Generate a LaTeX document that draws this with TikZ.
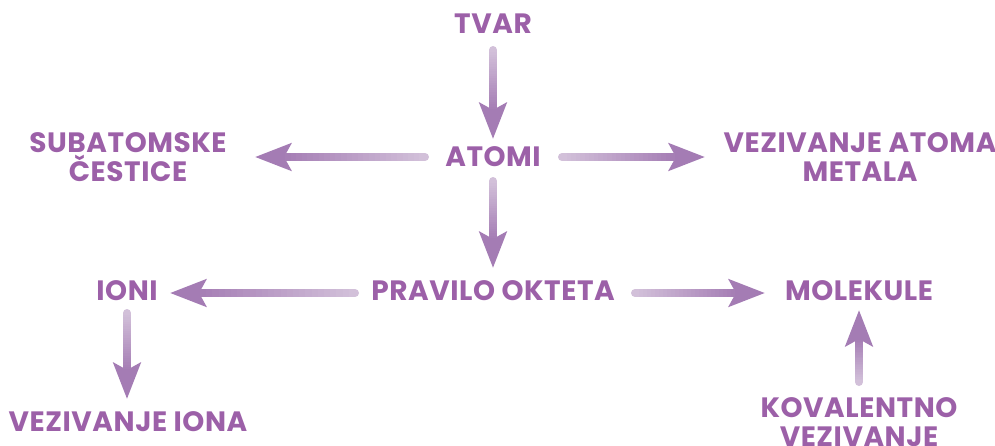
\documentclass[tikz,border=0pt]{standalone}
\usepackage{fontspec}
\setmainfont{Poppins}[LetterSpace=2]
\usetikzlibrary{arrows.meta,calc}
\definecolor{txt}{RGB}{156,96,168}
\definecolor{alight}{RGB}{210,192,217}
\definecolor{adark}{RGB}{164,124,180}
\tikzset{
  lbl/.style={text=txt, font=\fontsize{28}{29}\selectfont\bfseries, align=center, inner sep=0pt},
  headarr/.style={draw=adark, fill=adark, line width=8pt, -{Stealth[length=36pt,width=27pt,inset=7pt]}},
  seg/.style={line width=8pt},
}
\newcommand\gradarrow[2]{%
  \draw[headarr] ($(#2)!40pt!(#1)$) -- (#2);
  \coordinate (hb) at ($(#2)!30pt!(#1)$);
  \draw[seg, color=alight, line cap=round] (#1) -- ($(#1)!0.06!(hb)$);
  \foreach \i in {0,...,24}{%
    \pgfmathtruncatemacro\pc{100-\i*4}%
    \pgfmathsetmacro\a{\i/25}%
    \pgfmathsetmacro\b{min(1,(\i+1.4)/25)}%
    \draw[seg, color=alight!\pc!adark, line cap=butt] ($(#1)!\a!(hb)$) -- ($(#1)!\b!(hb)$);
  }%
}
\begin{document}
\begin{tikzpicture}[x=1pt,y=-1pt]
\useasboundingbox (0,0) rectangle (995,445);
% labels
\node[lbl] (tvar) at (493,24) {TVAR};
\node[lbl] (atomi) at (493,157) {ATOMI};
\node[lbl] (sub) at (128,157) {SUBATOMSKE\\ČESTICE};
\node[lbl] (vam) at (860,157) {VEZIVANJE ATOMA\\METALA};
\node[lbl] (po) at (493,291) {PRAVILO OKTETA};
\node[lbl] (ioni) at (127,291) {IONI};
\node[lbl] (vi) at (128,422) {VEZIVANJE IONA};
\node[lbl] (mol) at (859,291) {MOLEKULE};
\node[lbl] (kv) at (859,422) {KOVALENTNO\\VEZIVANJE};
% arrow endpoints
\coordinate (a1t) at (493,50);  \coordinate (a1h) at (493,139);
\coordinate (a2t) at (425,157); \coordinate (a2h) at (255,157);
\coordinate (a3t) at (562,157); \coordinate (a3h) at (705,157);
\coordinate (a4t) at (493,181); \coordinate (a4h) at (493,268);
\coordinate (a5t) at (355,293); \coordinate (a5h) at (170,293);
\coordinate (a6t) at (127,313); \coordinate (a6h) at (127,399);
\coordinate (a7t) at (635,293); \coordinate (a7h) at (765,293);
\coordinate (a8t) at (859,382); \coordinate (a8h) at (859,310);
\gradarrow{a1t}{a1h}
\gradarrow{a2t}{a2h}
\gradarrow{a3t}{a3h}
\gradarrow{a4t}{a4h}
\gradarrow{a5t}{a5h}
\gradarrow{a6t}{a6h}
\gradarrow{a7t}{a7h}
\gradarrow{a8t}{a8h}
\end{tikzpicture}
\end{document}
